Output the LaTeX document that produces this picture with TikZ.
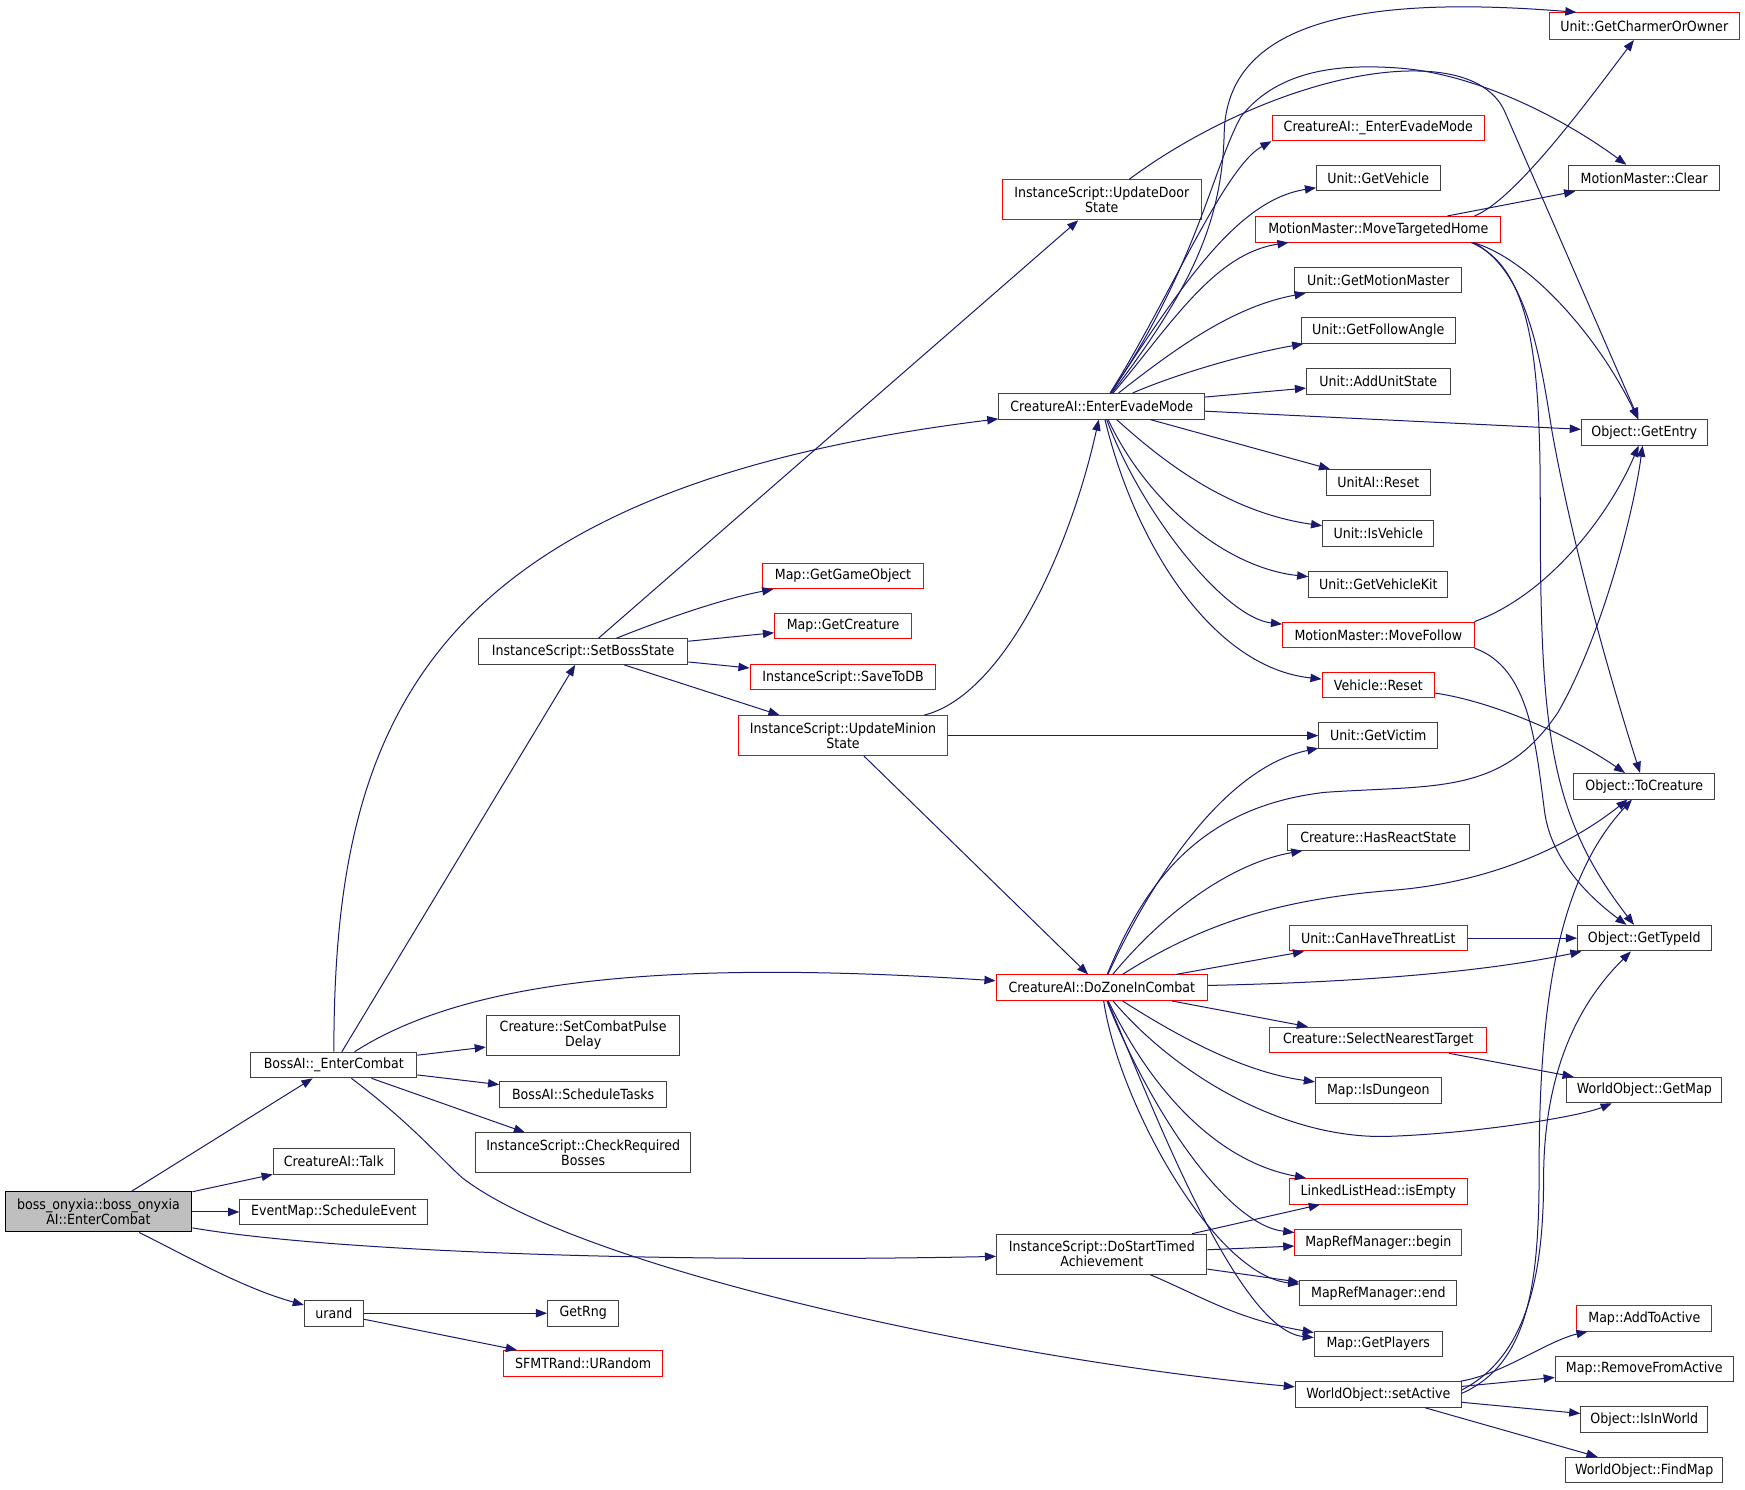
\documentclass[tikz,border=0pt]{standalone}
\usepackage{fontspec}
\setmainfont{DejaVu Sans}[FakeStretch=0.9]
\usetikzlibrary{arrows.meta}
\definecolor{edgec}{RGB}{25,25,112}
\definecolor{bordc}{RGB}{64,64,64}
\definecolor{rootf}{RGB}{191,191,191}
\definecolor{redc}{RGB}{255,0,0}
\newcommand\mkbox[6]{\node[#1,minimum width=#4pt,minimum height=#5pt] (#2) at (#3) {#6};}
\begin{document}
\begin{tikzpicture}[x=1pt,y=-1pt,
  nb/.style={draw=bordc,line width=0.9pt,fill=white,inner sep=0pt,align=center,font=\fontsize{12.6}{13.5}\selectfont},
  rb/.style={nb,draw=redc},
  root/.style={nb,draw=black,fill=rootf},
  e/.style={draw=edgec,line width=0.9pt,-{Triangle[length=10pt,width=7.5pt]}}]
\fill[white] (0,0) rectangle (1568,1338);
\useasboundingbox (0,0) rectangle (1568,1338);
% left part
\mkbox{root}{boss}{88.5,1089}{168}{36}{boss\_onyxia::boss\_onyxia\\AI::EnterCombat}
\mkbox{nb}{bae}{300,957}{149}{23}{BossAI::\_EnterCombat}
\mkbox{nb}{talk}{300,1043.5}{109}{23}{CreatureAI::Talk}
\mkbox{nb}{sched}{300,1089}{169}{23}{EventMap::ScheduleEvent}
\mkbox{nb}{urand}{300,1180}{53}{23}{urand}
\mkbox{nb}{sbs}{524,585.5}{188}{23}{InstanceScript::SetBossState}
\mkbox{nb}{scpd}{524,930.5}{174}{36}{Creature::SetCombatPulse\\Delay}
\mkbox{nb}{bst}{524,983.5}{150}{23}{BossAI::ScheduleTasks}
\mkbox{nb}{crb}{524,1036}{193}{36}{InstanceScript::CheckRequired\\Bosses}
\mkbox{nb}{rng}{524,1180}{64}{23}{GetRng}
\mkbox{rb}{urnd}{524,1225}{143}{23}{SFMTRand::URandom}
\mkbox{rb}{uds}{990,179.5}{179}{36}{InstanceScript::UpdateDoor\\State}
\mkbox{rb}{ggo}{757.5,517.5}{144}{23}{Map::GetGameObject}
\mkbox{rb}{gcr}{757.5,562.5}{123}{23}{Map::GetCreature}
\mkbox{rb}{stdb}{757.5,608.5}{167}{23}{InstanceScript::SaveToDB}
\mkbox{rb}{ums}{757.5,661}{188}{36}{InstanceScript::UpdateMinion\\State}
\mkbox{nb}{eem}{990,365}{185}{23}{CreatureAI::EnterEvadeMode}
\mkbox{rb}{dzc}{990,887.5}{190}{23}{CreatureAI::DoZoneInCombat}
\mkbox{nb}{dsta}{990,1127}{189}{36}{InstanceScript::DoStartTimed\\Achievement}
\mkbox{nb}{sa}{1238.5,1253}{149}{23}{WorldObject::setActive}
% middle column
\mkbox{rb}{eemu}{1238.5,115}{191}{23}{CreatureAI::\_EnterEvadeMode}
\mkbox{nb}{gvh}{1238.5,160}{111}{23}{Unit::GetVehicle}
\mkbox{rb}{mth}{1238.5,206}{220}{23}{MotionMaster::MoveTargetedHome}
\mkbox{nb}{gmm}{1238.5,251.5}{150}{23}{Unit::GetMotionMaster}
\mkbox{nb}{gfa}{1238.5,297}{138}{23}{Unit::GetFollowAngle}
\mkbox{nb}{aus}{1238.5,343}{129}{23}{Unit::AddUnitState}
\mkbox{nb}{ure}{1238.5,433.5}{93}{23}{UnitAI::Reset}
\mkbox{nb}{ivh}{1238.5,479.5}{100}{23}{Unit::IsVehicle}
\mkbox{nb}{gvk}{1238.5,525}{125}{23}{Unit::GetVehicleKit}
\mkbox{rb}{mfl}{1238.5,570.5}{172}{23}{MotionMaster::MoveFollow}
\mkbox{rb}{vrs}{1238.5,615.5}{101}{23}{Vehicle::Reset}
\mkbox{nb}{gvc}{1238.5,661}{107}{23}{Unit::GetVictim}
\mkbox{nb}{hrs}{1238.5,752.5}{163}{23}{Creature::HasReactState}
\mkbox{rb}{chtl}{1238.5,843}{160}{23}{Unit::CanHaveThreatList}
\mkbox{rb}{snt}{1238.5,934.5}{195}{23}{Creature::SelectNearestTarget}
\mkbox{nb}{idg}{1238.5,980}{113}{23}{Map::IsDungeon}
\mkbox{rb}{lle}{1238.5,1070.5}{160}{23}{LinkedListHead::isEmpty}
\mkbox{rb}{mrb}{1238.5,1116.5}{150}{23}{MapRefManager::begin}
\mkbox{nb}{mre}{1238.5,1162}{141}{23}{MapRefManager::end}
\mkbox{nb}{gpl}{1238.5,1207.5}{115}{23}{Map::GetPlayers}
% right column
\mkbox{rb}{gco}{1477.5,23.5}{171}{24}{Unit::GetCharmerOrOwner}
\mkbox{nb}{clr}{1477.5,160}{136}{23}{MotionMaster::Clear}
\mkbox{nb}{gen}{1477.5,388.5}{113}{23}{Object::GetEntry}
\mkbox{nb}{tcr}{1477.5,706.5}{127}{23}{Object::ToCreature}
\mkbox{nb}{gti}{1477.5,843}{120}{23}{Object::GetTypeId}
\mkbox{nb}{gmp}{1477.5,979.5}{139}{23}{WorldObject::GetMap}
\mkbox{rb}{ata}{1477.5,1184.5}{121}{23}{Map::AddToActive}
\mkbox{nb}{rfa}{1477.5,1230}{160}{23}{Map::RemoveFromActive}
\mkbox{nb}{iiw}{1477.5,1275.5}{114}{23}{Object::IsInWorld}
\mkbox{nb}{fmp}{1477.5,1321}{141}{23}{WorldObject::FindMap}
% edges from root
\draw[e] (boss) -- (bae);
\draw[e] (boss) -- (talk);
\draw[e] (boss) -- (sched);
\draw[e] (boss) .. controls (300,1125) and (600,1135) .. (dsta);
\draw[e] (boss) .. controls (170,1130) and (220,1158) .. (urand);
\draw[e] (urand) -- (rng);
\draw[e] (urand) -- (urnd);
% BossAI::_EnterCombat
\draw[e] (bae) -- (sbs);
\draw[e] (bae) .. controls (300,650) and (380,440) .. (eem);
\draw[e] (bae) .. controls (420,880) and (600,862) .. (dzc);
\draw[e] (bae) -- (scpd);
\draw[e] (bae) -- (bst);
\draw[e] (bae) -- (crb);
\draw[e] (bae) .. controls (370,1010) and (395,1040) .. (415,1058) .. controls (520,1140) and (900,1222) .. (sa);
% SetBossState
\draw[e] (sbs) -- (uds);
\draw[e] (sbs) .. controls (600,555) and (650,538) .. (ggo);
\draw[e] (sbs) -- (gcr);
\draw[e] (sbs) -- (stdb);
\draw[e] (sbs) -- (ums);
% UpdateMinionState
\draw[e] (ums) .. controls (900,625) and (960,500) .. (eem);
\draw[e] (ums) -- (gvc);
\draw[e] (ums) -- (dzc);
% UpdateDoorState
\draw[e] (uds) .. controls (1090,105) and (1200,60) .. (1280,64) .. controls (1320,66) and (1343,80) .. (1352,100) -- (gen);
% EnterEvadeMode
\draw[e] (eem) .. controls (1070,260) and (1098,200) .. (1100,120) .. controls (1102,20) and (1220,-5) .. ([xshift=25pt]gco.north west);
\draw[e] (eem) .. controls (1050,270) and (1100,150) .. (eemu.south west);
\draw[e] (eem) .. controls (1060,260) and (1110,180) .. (gvh);
\draw[e] (eem) .. controls (1050,295) and (1090,228) .. (mth);
\draw[e] (eem) .. controls (1060,310) and (1110,275) .. (gmm);
\draw[e] (eem) .. controls (1060,335) and (1120,318) .. (gfa);
\draw[e] (eem) -- (aus);
\draw[e] (eem) -- (gen);
\draw[e] (eem) -- (ure);
\draw[e] (eem) .. controls (1040,410) and (1100,460) .. (ivh);
\draw[e] (eem) .. controls (1030,450) and (1100,510) .. (gvk);
\draw[e] (eem) .. controls (1025,460) and (1100,555) .. (mfl);
\draw[e] (eem) .. controls (1020,490) and (1090,600) .. (vrs);
\draw[e] (eem) .. controls (1075,240) and (1090,150) .. (1115,105) .. controls (1150,60) and (1210,58) .. (1255,61) .. controls (1330,66) and (1410,110) .. (clr);
% MoveTargetedHome
\draw[e] (mth) -- (clr);
\draw[e] ([xshift=-24pt]mth.north east) .. controls (1360,180) and (1420,100) .. (gco);
\draw[e] ([xshift=-25pt]mth.south east) .. controls (1380,235) and (1440,310) .. (gen);
\draw[e] ([xshift=-25pt]mth.south east) .. controls (1375,245) and (1385,330) .. (1395,390) .. controls (1415,500) and (1450,620) .. (tcr);
\draw[e] ([xshift=-27pt]mth.south east) .. controls (1375,240) and (1384,320) .. (1384,450) .. controls (1384,650) and (1390,730) .. (gti);
% MoveFollow, Vehicle::Reset
\draw[e] (mfl.north east) .. controls (1390,535) and (1445,465) .. (gen);
\draw[e] (mfl.south east) .. controls (1375,600) and (1380,670) .. (1388,730) .. controls (1395,780) and (1440,815) .. (gti);
\draw[e] (vrs) .. controls (1340,630) and (1410,660) .. (tcr);
% DoZoneInCombat
\draw[e] (dzc) .. controls (1030,790) and (1080,725) .. (1190,712) .. controls (1290,705) and (1350,715) .. (1400,640) .. controls (1440,570) and (1468,460) .. (gen);
\draw[e] (dzc) .. controls (1035,790) and (1100,690) .. (gvc);
\draw[e] (dzc) .. controls (1050,815) and (1110,775) .. (hrs);
\draw[e] (dzc) .. controls (1080,830) and (1150,808) .. (1251,800) .. controls (1340,793) and (1410,760) .. (tcr);
\draw[e] (dzc) -- (chtl);
\draw[e] (dzc) .. controls (1250,882) and (1350,870) .. (gti);
\draw[e] (dzc) -- (snt);
\draw[e] (dzc) .. controls (1080,945) and (1130,965) .. (idg);
\draw[e] (dzc) .. controls (1060,970) and (1160,1025) .. (1250,1021) .. controls (1330,1018) and (1420,1003) .. (gmp);
\draw[e] (dzc) .. controls (1040,990) and (1100,1045) .. (lle);
\draw[e] (dzc) .. controls (1030,990) and (1100,1100) .. (mrb);
\draw[e] (dzc) .. controls (1005,990) and (1090,1145) .. (mre);
\draw[e] (dzc) .. controls (1030,980) and (1110,1195) .. (gpl);
\draw[e] (chtl) -- (gti);
\draw[e] (snt) -- (gmp);
% DoStartTimedAchievement
\draw[e] (dsta) -- (lle);
\draw[e] (dsta) -- (mrb);
\draw[e] (dsta) -- (mre);
\draw[e] (dsta) .. controls (1080,1165) and (1110,1185) .. (gpl);
% setActive
\draw[e] (sa) .. controls (1350,1235) and (1390,1205) .. (ata);
\draw[e] (sa) -- (rfa);
\draw[e] (sa) -- (iiw);
\draw[e] (sa) -- (fmp);
\draw[e] ([yshift=1pt]sa.east) .. controls (1375,1225) and (1383,1150) .. (1383,1050) .. controls (1383,900) and (1400,790) .. (tcr);
\draw[e] ([yshift=4pt]sa.east) .. controls (1370,1220) and (1387,1150) .. (1387,1060) .. controls (1387,960) and (1420,900) .. (gti);
\end{tikzpicture}
\end{document}
